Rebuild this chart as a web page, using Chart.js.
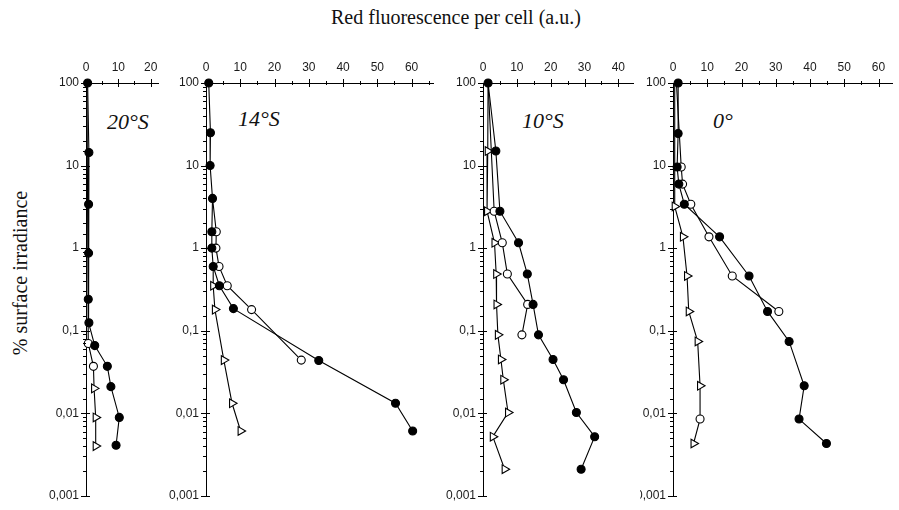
<!DOCTYPE html>
<html>
<head>
<meta charset="utf-8">
<script src="https://cdn.jsdelivr.net/npm/chart.js@4.4.1/dist/chart.umd.min.js"></script>
<style>
  body { margin: 0; background: #fff; width: 899px; height: 510px; position: relative; overflow: hidden; }
  canvas { position: absolute; top: 0; }
  .txt { position: absolute; font-family: "Liberation Serif", "Times New Roman", serif; color: #111; white-space: nowrap; line-height: 22px; }
  .painel { font-style: italic; font-size: 22px; }
</style>
</head>
<body>
<div class="txt" style="left:331px; top:6px; font-size:20px;">Red fluorescence per cell (a.u.)</div>
<div class="txt" style="left:20px; top:273px; font-size:20px; transform: translate(-50%, -50%) rotate(-90deg);">% surface irradiance</div>
<div class="txt painel" style="left:107px; top:111px;">20°S</div>
<div class="txt painel" style="left:238px; top:108px;">14°S</div>
<div class="txt painel" style="left:522px; top:110px;">10°S</div>
<div class="txt painel" style="left:713px; top:110px;">0°</div>

<canvas id="painel20" width="130" height="510" style="left:36px"></canvas>
<canvas id="painel14" width="272" height="510" style="left:168px"></canvas>
<canvas id="painel10" width="197" height="510" style="left:443px"></canvas>
<canvas id="painel0" width="259" height="510" style="left:640px"></canvas>

<script>
// % irradiancia (eixo y) e fluorescencia (eixo x) de cada perfil
// ● = cheio, ○ = aberto, ▷ = tri

// 20°S
const irr20Cheio = [100, 14.4, 3.4, 0.87, 0.24, 0.125, 0.066, 0.037, 0.021, 0.0089, 0.0041];
const fl20Cheio  = [0.5, 0.9, 0.8, 0.8, 0.7, 0.9, 2.7, 6.6, 7.7, 10.3, 9.3];
const irr20Aberto = [100, 0.07, 0.037];
const fl20Aberto  = [0.3, 0.7, 2.3];
const irr20Tri = [0.037, 0.02, 0.0089, 0.004];
const fl20Tri  = [2.3, 2.5, 3.0, 3.0];

// 14°S
const irr14Cheio = [100, 25, 10, 4.0, 1.58, 1.0, 0.6, 0.35, 0.185, 0.0435, 0.0132, 0.0061];
const fl14Cheio  = [0.8, 1.3, 1.2, 1.9, 1.7, 1.7, 2.1, 3.9, 8.0, 32.9, 55.3, 60.3];
const irr14Aberto = [4.0, 1.58, 1.0, 0.6, 0.35, 0.18, 0.044];
const fl14Aberto  = [1.9, 3.0, 2.9, 3.8, 6.2, 13.3, 27.8];
const irr14Tri = [0.6, 0.35, 0.18, 0.044, 0.0132, 0.0061];
const fl14Tri  = [2.1, 2.1, 2.6, 5.2, 7.6, 10.1];

// 10°S
const irr10Cheio = [100, 15, 2.8, 1.16, 0.485, 0.208, 0.089, 0.0448, 0.0255, 0.0102, 0.0052, 0.0021];
const fl10Cheio  = [1.5, 3.8, 5.0, 10.5, 13.1, 14.8, 16.4, 20.7, 23.8, 27.6, 33.0, 29.0];
const irr10Aberto = [100, 2.8, 1.16, 0.485, 0.208, 0.089];
const fl10Aberto  = [1.5, 3.3, 5.7, 7.2, 13.2, 11.5];
const irr10Tri = [100, 15, 2.8, 1.16, 0.485, 0.208, 0.089, 0.0448, 0.0255, 0.0102, 0.0052, 0.0021];
const fl10Tri  = [1.5, 1.4, 1.2, 3.4, 3.9, 4.0, 4.4, 5.3, 6.0, 7.4, 2.9, 6.4];

// 0°
const irr0Cheio = [100, 24.5, 9.6, 5.96, 3.4, 1.37, 0.46, 0.171, 0.0741, 0.0215, 0.0085, 0.0043];
const fl0Cheio  = [1.5, 1.5, 1.2, 1.7, 3.3, 13.6, 22.2, 27.6, 33.9, 38.3, 36.8, 44.8];
const irr0Aberto = [100, 9.6, 5.96, 3.4, 1.37, 0.46, 0.171];
const fl0Aberto  = [1.0, 2.4, 2.8, 5.2, 10.5, 17.3, 30.9];
const irr0Tri = [100, 3.2, 1.37, 0.46, 0.171, 0.0741, 0.0215, 0.0085, 0.0043];
const fl0Tri  = [0.5, 0.5, 2.9, 4.1, 4.6, 7.2, 7.9, 7.9, 6.0];

// rotulos do eixo y
const rotulosY = { 100: '100', 10: '10', 1: '1', 0.1: '0,1', 0.01: '0,01', 0.001: '0,001' };

const fonteTicks = { family: "'Liberation Sans', Arial, sans-serif", size: 12 };

function ehPotencia(v) {
  const l = Math.log10(v);
  return Math.abs(l - Math.round(l)) < 1e-6;
}

// ticks que cruzam a linha do eixo
const ticksCruzados = {
  id: 'ticksCruzados',
  afterDraw(chart) {
    const ctx = chart.ctx;
    const area = chart.chartArea;
    const sx = chart.scales.x, sy = chart.scales.y;
    ctx.save();
    ctx.strokeStyle = '#000';
    ctx.lineWidth = 1;
    ctx.beginPath();
    sx.ticks.forEach(t => {
      if (t.value === 0) return;
      const px = Math.round(sx.getPixelForValue(t.value)) + 0.5;
      const l = t.value % 10 === 0 ? 4 : 2;
      ctx.moveTo(px, area.top - l);
      ctx.lineTo(px, area.top + l);
    });
    sy.ticks.forEach(t => {
      const py = Math.round(sy.getPixelForValue(t.value)) + 0.5;
      const maior = ehPotencia(t.value);
      ctx.moveTo(area.left - (maior ? 5 : 3), py);
      ctx.lineTo(area.left + (maior ? 4 : 0), py);
    });
    ctx.stroke();
    ctx.restore();
  }
};

function serie(irr, fl, tipo, ocultarPrimeiro, estilos) {
  const raio = tipo === 'tri' ? 5 : 4;
  return {
    data: irr.map((v, i) => ({ x: fl[i], y: v })),
    borderColor: '#000',
    borderWidth: 1.1,
    tension: 0,
    clip: false,
    pointStyle: estilos || (tipo === 'tri' ? 'triangle' : 'circle'),
    pointRotation: tipo === 'tri' ? 90 : 0,
    pointRadius: irr.map((v, i) => (ocultarPrimeiro && i === 0) ? 0 : (estilos && estilos[i] === 'circle' ? 4 : raio)),
    pointBackgroundColor: tipo === 'cheio' ? '#000' : '#fff',
    pointBorderColor: '#000',
    pointBorderWidth: 1.1
  };
}

function criarPainel(id, xMax, larguraY, datasets) {
  return new Chart(document.getElementById(id), {
    type: 'line',
    data: { datasets: datasets },
    options: {
      responsive: false,
      animation: false,
      layout: { padding: { top: 0, bottom: 10, left: 0, right: 0 } },
      plugins: { legend: { display: false }, tooltip: { enabled: false } },
      scales: {
        x: {
          type: 'linear',
          position: 'top',
          min: 0,
          max: xMax,
          ticks: {
            stepSize: 5, autoSkip: false, maxRotation: 0, padding: 8, includeBounds: false,
            font: fonteTicks, color: '#1a1a1a',
            callback: v => v % 10 === 0 ? String(v) : ''
          },
          afterBuildTicks: s => { s.ticks = s.ticks.filter(t => t.value % 5 === 0); },
          afterFit: s => { s.height = 83; },
          grid: { display: false, drawTicks: false },
          border: { display: true, color: '#000', width: 1 }
        },
        y: {
          type: 'logarithmic',
          min: 0.001,
          max: 100,
          ticks: {
            autoSkip: false, padding: 7,
            font: fonteTicks, color: '#1a1a1a',
            callback: v => ehPotencia(v) ? rotulosY[Number(v.toPrecision(1))] : ''
          },
          afterFit: s => { s.width = larguraY; },
          grid: { display: false, drawTicks: false },
          border: { display: true, color: '#000', width: 1 }
        }
      }
    },
    plugins: [ticksCruzados]
  });
}

criarPainel('painel20', 22.5, 50, [
  serie(irr20Cheio, fl20Cheio, 'cheio'),
  serie(irr20Aberto, fl20Aberto, 'aberto', true),
  serie(irr20Tri, fl20Tri, 'tri', true)
]);

criarPainel('painel14', 66.5, 38, [
  serie(irr14Cheio, fl14Cheio, 'cheio'),
  serie(irr14Aberto, fl14Aberto, 'aberto', true),
  serie(irr14Tri, fl14Tri, 'tri', true)
]);

criarPainel('painel10', 44.6, 40, [
  serie(irr10Cheio, fl10Cheio, 'cheio'),
  serie(irr10Aberto, fl10Aberto, 'aberto', true),
  serie(irr10Tri, fl10Tri, 'tri', true)
]);

// no perfil 0° um ponto da serie de triangulos aparece como circulo aberto
const estilos0Tri = irr0Tri.map((v, i) => i === 7 ? 'circle' : 'triangle');

criarPainel('painel0', 64.2, 33, [
  serie(irr0Cheio, fl0Cheio, 'cheio'),
  serie(irr0Aberto, fl0Aberto, 'aberto', true),
  serie(irr0Tri, fl0Tri, 'tri', true, estilos0Tri)
]);
</script>
</body>
</html>
